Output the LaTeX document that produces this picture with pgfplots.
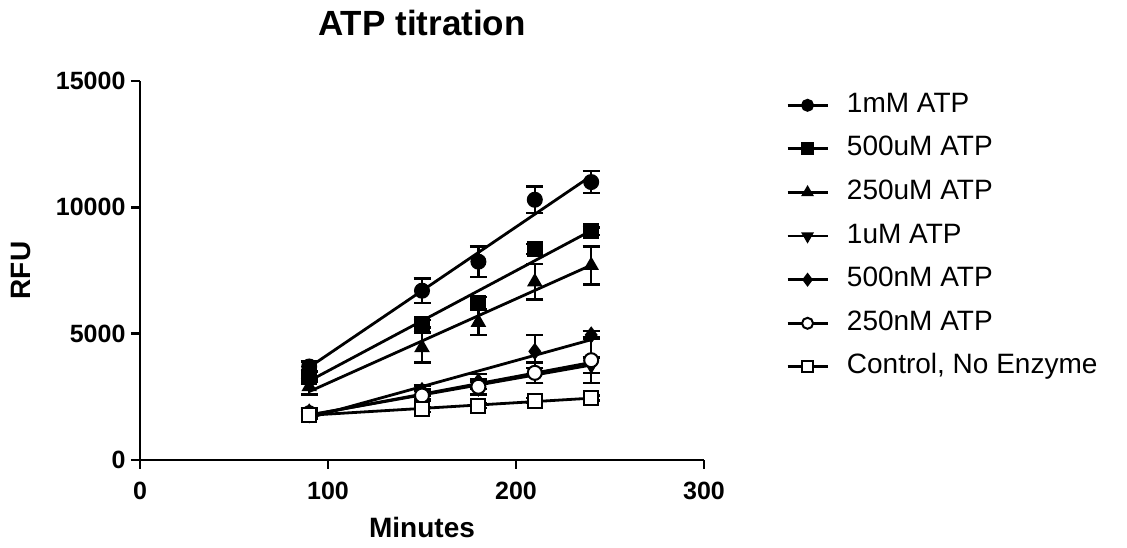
\documentclass[border=0pt]{standalone}
\usepackage{fontspec}
\setmainfont{Liberation Sans}
\usepackage{pgfplots}
\usepackage{pgfplotstable}
\pgfplotsset{compat=1.18}

\pgfplotstableread{
x y e
90 3700 200
150 6700 480
180 7850 600
210 10300 520
240 11000 440
}\tA
\pgfplotstableread{
x y e
90 3300 200
150 5400 150
180 6200 250
210 8350 200
240 9050 150
}\tB
\pgfplotstableread{
x y e
90 2900 300
150 4450 600
180 5450 500
210 7050 700
240 7700 750
}\tC
\pgfplotstableread{
x y e
90 1800 150
150 2600 200
180 2850 250
210 3450 400
240 3750 300
}\tD
\pgfplotstableread{
x y e
90 1900 150
150 2750 200
180 3100 300
210 4300 650
240 4950 150
}\tE
\pgfplotstableread{
x y e
90 1850 150
150 2550 200
180 2900 300
210 3450 400
240 3950 900
}\tF
\pgfplotstableread{
x y e
90 1800 100
150 2000 100
180 2150 100
210 2350 100
240 2450 100
}\tG

\pgfplotsset{
  dat/.style={only marks, black, mark size=7pt, line width=2pt,
    error bars/y dir=both, error bars/y explicit,
    error bars/error bar style={line width=2.5pt, black},
    error bars/error mark options={line width=2.5pt, black, mark size=8.5pt, rotate=90}},
  fit/.style={black, line width=2.8pt, mark=none, forget plot},
}

\begin{document}
\begin{tikzpicture}
\useasboundingbox (0,0) rectangle (1127pt,548pt);
\begin{axis}[
  at={(140pt,88pt)}, anchor=south west,
  scale only axis, width=564pt, height=379pt,
  xmin=0, xmax=300, ymin=0, ymax=15000,
  axis x line*=bottom, axis y line*=left,
  axis line style={line width=2.5pt, black, -},
  xtick={0,100,200,300}, ytick={0,5000,10000,15000},
  tick align=outside, major tick length=9pt,
  tick style={line width=2.5pt, black},
  minor tick num=0,
  scaled ticks=false,
  /pgf/number format/assume math mode=true,
  /pgf/number format/1000 sep={},
  ticklabel style={font=\bfseries\fontsize{25}{25}\selectfont},
  yticklabel style={xshift=-2pt},
  xticklabel style={yshift=-10pt},
  xlabel={Minutes}, ylabel={RFU},
  label style={font=\bfseries\fontsize{28}{28}\selectfont},
  xlabel style={at={(axis description cs:0.5,-0.2058)}, anchor=base},
  ylabel style={at={(axis description cs:-0.195,0.5)}, anchor=base, rotate=0},
  title={ATP titration},
  title style={font=\bfseries\fontsize{35}{35}\selectfont, at={(axis description cs:0.5,1.103)}, anchor=base},
  clip=false,
  legend image code/.code={
    \draw[#1, mark=none] (0pt,0pt) -- (40pt,0pt);
    \draw[#1, mark size=5.5pt, line width=2pt] plot coordinates {(20pt,0pt)};
  },
  legend style={draw=none, fill=none, at={(1.140,0.976)}, anchor=north west,
    font=\fontsize{28}{30}\selectfont,
    nodes={inner sep=0pt, text height=20pt, text depth=6pt},
    row sep=17.6pt,
    /tikz/every odd column/.append style={column sep=18pt}},
  legend cell align=left,
]
% regression lines
\addplot[fit] table[x=x, y={create col/linear regression={y=y}}] {\tA};
\addplot[fit] table[x=x, y={create col/linear regression={y=y}}] {\tB};
\addplot[fit] table[x=x, y={create col/linear regression={y=y}}] {\tC};
\addplot[fit] table[x=x, y={create col/linear regression={y=y}}] {\tD};
\addplot[fit] table[x=x, y={create col/linear regression={y=y}}] {\tE};
\addplot[fit] table[x=x, y={create col/linear regression={y=y}}] {\tF};
\addplot[fit] table[x=x, y={create col/linear regression={y=y}}] {\tG};
% data points
\addplot[dat, mark=*, forget plot] table[x=x, y=y, y error=e] {\tA};
\addplot[dat, mark=square*, forget plot] table[x=x, y=y, y error=e] {\tB};
\addplot[dat, mark=triangle*, forget plot] table[x=x, y=y, y error=e] {\tC};
\addplot[dat, mark=triangle*, mark options={rotate=180}, forget plot] table[x=x, y=y, y error=e] {\tD};
\addplot[dat, mark=diamond*, forget plot] table[x=x, y=y, y error=e] {\tE};
\addplot[dat, mark=*, mark options={fill=white}, forget plot] table[x=x, y=y, y error=e] {\tF};
\addplot[dat, mark=square*, mark options={fill=white}, forget plot] table[x=x, y=y, y error=e] {\tG};
% legend
\addlegendimage{black, line width=2.8pt, mark=*}
\addlegendimage{black, line width=2.8pt, mark=square*}
\addlegendimage{black, line width=2.8pt, mark=triangle*}
\addlegendimage{black, line width=2.8pt, mark=triangle*, mark options={rotate=180}}
\addlegendimage{black, line width=2.8pt, mark=diamond*}
\addlegendimage{black, line width=2.8pt, mark=*, mark options={fill=white}}
\addlegendimage{black, line width=2.8pt, mark=square*, mark options={fill=white}}
\legend{1mM ATP, 500uM ATP, 250uM ATP, 1uM ATP, 500nM ATP, 250nM ATP, {Control, No Enzyme}}
\end{axis}
\end{tikzpicture}
\end{document}
